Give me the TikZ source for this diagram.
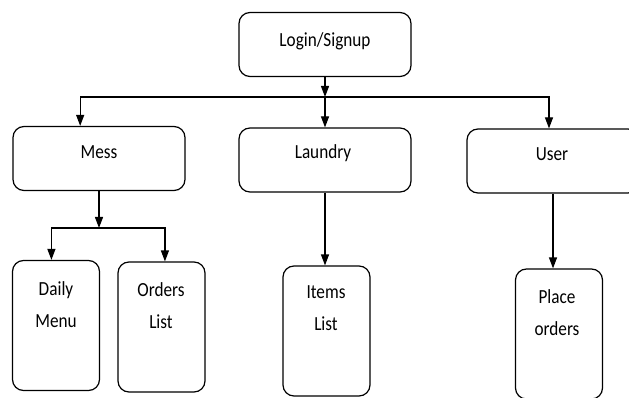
\documentclass[tikz,border=0pt]{standalone}
\usepackage{fontspec}
\setmainfont{Carlito}[FakeStretch=0.86]
\usetikzlibrary{arrows.meta,positioning}
\tikzstyle{box} = [draw, rounded corners=11pt, line width=1.2pt, inner sep=0pt]
\tikzstyle{wide} = [box, minimum width=172pt, minimum height=64pt]
\tikzstyle{tall} = [box, minimum width=87pt, minimum height=130pt]
\tikzstyle{txt} = [align=center, font=\fontsize{20}{32}\selectfont, inner sep=0pt]
\tikzstyle{arrow} = [line width=1.2pt, -{Triangle[length=11pt,width=8pt]}]

\begin{document}
\begin{tikzpicture}[x=1pt,y=-1pt]
      \useasboundingbox (0,0) rectangle (629,398);
      % top level
      \node[wide] (login) at (325,44.5) {};
      \node[txt] (logintxt) at (325,41) {Login/Signup};
      \node[wide] (mess) at (99,158.5) {};
      \node[txt] (messtxt) at (99,152) {Mess};
      \node[wide] (laundry) at (325,160) {};
      \node[txt] (laundrytxt) at (323,153) {Laundry};
      \node[wide] (user) at (553,161) {};
      \node[txt] (usertxt) at (552,154) {User};
      % second level
      \node[tall] (daily) at (56,325.5) {};
      \node[txt] (dailytxt) at (56,305) {Daily\\Menu};
      \node[tall] (orders) at (161.5,327) {};
      \node[txt] (orderstxt) at (161,306) {Orders\\List};
      \node[tall] (items) at (326.5,331) {};
      \node[txt] (itemstxt) at (326,308) {Items\\List};
      \node[tall] (place) at (559,334) {};
      \node[txt] (placetxt) at (557,313) {Place\\orders};
      \coordinate (j1) at (325,97);
      \coordinate (j2) at (99,228);
      %\draw (j1) -- (user.north);
      \draw[arrow] (login) -- (j1);
      \draw[arrow] (j1) -| (mess.120);
      \draw[arrow] (j1) -- (laundry);
      \draw[arrow] (j1) -| (user.97);
      \draw[arrow] (mess) -- (j2);
      \draw[arrow] (j2) -| (daily.94);
      \draw[arrow] (j2) -| (orders.87);
      \draw[arrow] (laundry) -- (laundry |- items.north);
      \draw[arrow] (user) -- (user |- place.north);
\end{tikzpicture}
\end{document}
